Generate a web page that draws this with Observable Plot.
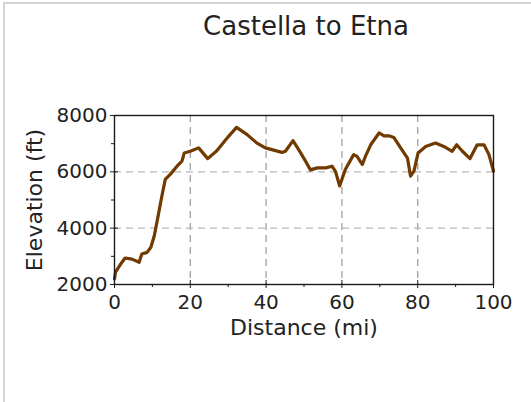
<!DOCTYPE html>
<html>
<head>
<meta charset="utf-8">
<script src="https://cdn.jsdelivr.net/npm/d3@7"></script>
<script src="https://cdn.jsdelivr.net/npm/@observablehq/plot@0.6"></script>
<style>
  html, body { margin: 0; padding: 0; background: #fff; }
  body { width: 531px; height: 402px; position: relative; overflow: hidden; font-family: "DejaVu Sans", sans-serif; }
  #border { position: absolute; left: 3px; top: 2px; width: 600px; height: 500px; border-top: 2px solid #d4d4d4; border-left: 2px solid #d4d4d4; }
  #title { position: absolute; left: 106px; width: 400px; top: 13px; text-align: center; font-size: 26px; line-height: 26px; color: #222; }
  #chart { position: absolute; left: 0; top: 0; }
</style>
</head>
<body>
<div id="border"></div>
<div id="chart"></div>
<div id="title">Castella to Etna</div>
<script>
const titleText = "Castella to Etna";
const xLabel = "Distance (mi)";
const yLabel = "Elevation (ft)";
const xMajorTicks = [0, 20, 40, 60, 80, 100];
const xMinorTicks = [10, 30, 50, 70, 90];
const yMajorTicks = [2000, 4000, 6000, 8000];
const yMinorTicks = [3000, 5000, 7000];
const xGridTicks = [20, 40, 60, 80];
const yGridTicks = [4000, 6000];

const distance = [0, 0.3, 1.5, 2.8, 4.6, 6.5, 7.2, 8.6, 9.6, 10.5, 11.6, 12.5, 13.4, 14.7, 16.5, 17.8, 18.4, 20.0, 22.2, 24.6, 27.0, 30.1, 32.2, 35.0, 37.6, 39.8, 44.2, 45.1, 47.1, 49.0, 50.4, 51.7, 53.5, 55.7, 57.4, 58.3, 59.4, 60.9, 63.1, 64.0, 65.4, 66.2, 67.6, 69.8, 71.1, 72.4, 73.7, 75.5, 77.3, 78.1, 79.0, 80.1, 82.1, 84.7, 86.9, 89.1, 90.3, 91.8, 93.8, 95.7, 97.5, 98.8, 100];
const elevation = [2200, 2450, 2700, 2940, 2900, 2790, 3080, 3140, 3320, 3730, 4500, 5140, 5730, 5910, 6200, 6380, 6670, 6730, 6850, 6470, 6750, 7260, 7580, 7320, 7020, 6850, 6690, 6730, 7110, 6700, 6380, 6070, 6140, 6140, 6200, 6020, 5500, 6080, 6610, 6550, 6260, 6550, 6960, 7380, 7280, 7280, 7220, 6850, 6490, 5850, 6020, 6670, 6900, 7020, 6900, 6730, 6960, 6730, 6470, 6960, 6960, 6610, 6020];

const data = distance.map((d, i) => ({distance: d, elevation: elevation[i]}));

document.getElementById("title").textContent = titleText;

const axisColor = "#1a1a1a";
const fmt = d => String(d);
const plot = Plot.plot({
  width: 531,
  height: 402,
  marginLeft: 114,
  marginRight: 38,
  marginTop: 115,
  marginBottom: 118,
  style: {fontFamily: "DejaVu Sans, sans-serif", background: "transparent", color: "#222", overflow: "visible"},
  x: {domain: [0, 100]},
  y: {domain: [2000, 8000]},
  marks: [
    Plot.gridX(xGridTicks, {stroke: "#a0a0a0", strokeOpacity: 1, strokeWidth: 1.3, strokeDasharray: "7,5"}),
    Plot.gridY(yGridTicks, {stroke: "#b8b8b8", strokeOpacity: 1, strokeWidth: 1.3, strokeDasharray: "7,5"}),
    Plot.line(data, {x: "distance", y: "elevation", stroke: "#703a00", strokeWidth: 3.2, strokeLinejoin: "round", strokeLinecap: "round"}),
    Plot.frame({stroke: axisColor, strokeWidth: 1.4}),
    Plot.axisX(xMajorTicks, {tickSize: 4, tickPadding: 6, fontSize: 20, tickFormat: fmt, stroke: axisColor, label: xLabel, labelAnchor: "center", labelOffset: 50, labelArrow: "none"}),
    Plot.axisX(xMajorTicks, {tickSize: -4, tickFormat: () => "", label: null, stroke: axisColor}),
    Plot.axisX(xMinorTicks, {tickSize: 3, tickFormat: () => "", label: null, stroke: axisColor}),
    Plot.axisY(yMajorTicks, {tickSize: 4, tickPadding: 3, fontSize: 20, tickFormat: fmt, stroke: axisColor, label: yLabel, labelAnchor: "center", labelOffset: 88, labelArrow: "none"}),
    Plot.axisY(yMajorTicks, {tickSize: -4, tickFormat: () => "", label: null, stroke: axisColor}),
    Plot.axisY(yMinorTicks, {tickSize: 3, tickFormat: () => "", label: null, stroke: axisColor})
  ]
});
document.getElementById("chart").appendChild(plot);
plot.querySelectorAll("g[aria-label='x-axis label'], g[aria-label='y-axis label']").forEach(g => g.setAttribute("font-size", 22));
</script>
</body>
</html>
